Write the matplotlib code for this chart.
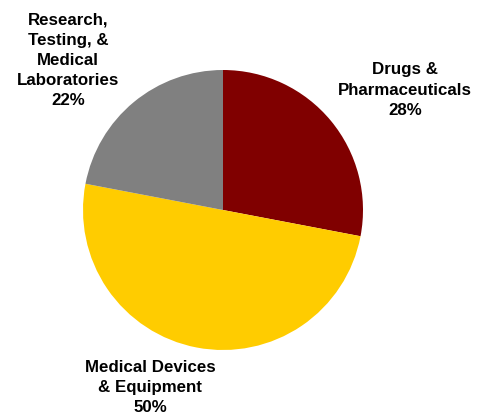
import matplotlib.pyplot as plt

labels = ['Drugs &\nPharmaceuticals', 'Medical Devices\n& Equipment',
          'Research,\nTesting, &\nMedical\nLaboratories']
shares = [28, 50, 22]
colors = ['#800000', '#FFCC00', '#808080']

plt.rcParams['font.family'] = ['Liberation Sans', 'DejaVu Sans']

fig = plt.figure(figsize=(4.87, 4.16), dpi=100)
ax = fig.add_axes([0, 0, 1, 1])

ax.pie(shares, colors=colors, startangle=90, counterclock=False,
       radius=1.0, center=(0, 0))

# label spots, placed by hand next to each wedge
spots = [(1.30, 0.857), (-0.521, -1.271), (-1.107, 1.071)]
for lab, val, (x, y) in zip(labels, shares, spots):
    ax.text(x, y, f'{lab}\n{val}%', ha='center', va='center',
            fontsize=12.2, fontweight='bold', linespacing=1.42)

ax.set_xlim(-223 / 140, (487 - 223) / 140)
ax.set_ylim(-(416 - 210) / 140, 210 / 140)
ax.set_aspect('equal')
ax.axis('off')

plt.savefig('out.png', dpi=100)
